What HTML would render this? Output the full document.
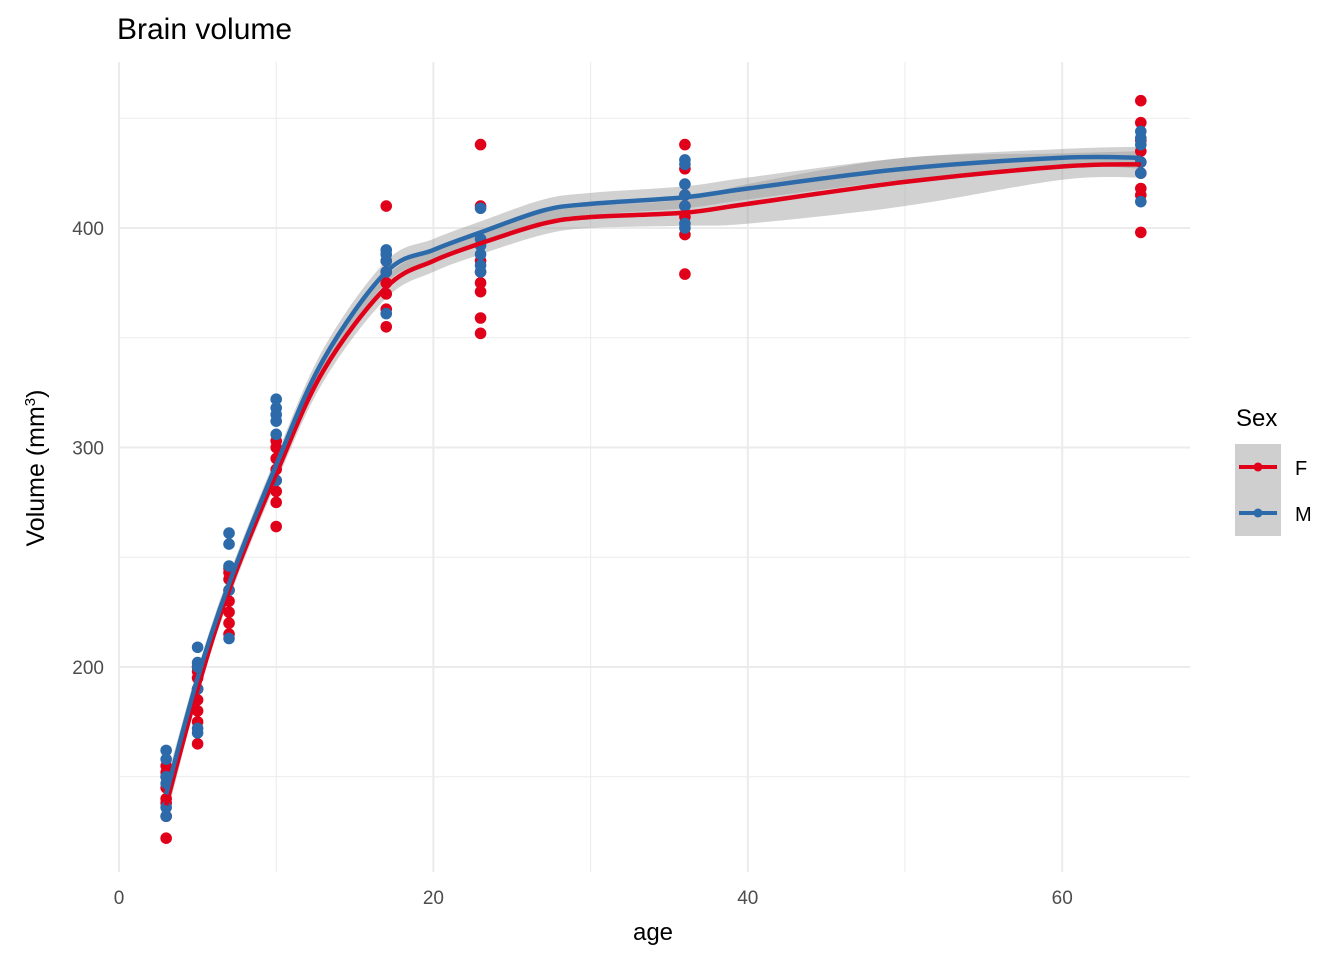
<!DOCTYPE html>
<html><head><meta charset="utf-8"><style>
body{margin:0;background:#fff;font-family:"Liberation Sans",sans-serif}
</style></head><body>
<svg id="c" width="1344" height="960" xmlns="http://www.w3.org/2000/svg" font-family="Liberation Sans, sans-serif">
<text x="117" y="39" font-size="30" fill="#000">Brain volume</text>
<g id="grid"></g><g id="ribbons"></g><g id="pts"></g><g id="lines"></g><g id="axes"></g>
<text x="653" y="940" font-size="24" text-anchor="middle">age</text>
<text transform="translate(44,468) rotate(-90)" font-size="25" text-anchor="middle">Volume (mm<tspan dy="-9" font-size="15">3</tspan><tspan dy="9">)</tspan></text>
<g>
<text x="1236" y="426" font-size="24">Sex</text>
<rect x="1235" y="444" width="46" height="92" fill="#cfcfcf"/>
<g><line x1="1239" x2="1277" y1="467" y2="467" stroke="#e0001a" stroke-width="4"/><circle cx="1258" cy="467" r="4.5" fill="#e0001a"/><text x="1295" y="475" font-size="20">F</text></g>
<g><line x1="1239" x2="1277" y1="513" y2="513" stroke="#2d6aaa" stroke-width="4"/><circle cx="1258" cy="513" r="4.5" fill="#2d6aaa"/><text x="1295" y="521" font-size="20">M</text></g>
</g>
</svg>
<script>
const ages=[3,5,7,10,17,23,36,65];
const fVals=[[122,140,145,150,152,155,138,132],[165,175,180,185,190,195,198,200],[215,220,225,230,235,240,243,245],[264,275,280,285,290,295,300,303],[410,355,363,370,375,380,385],[438,410,352,359,371,375,380,385],[438,427,379,397,405,410,415],[458,448,440,435,430,425,418,415,398]];
const mVals=[[162,158,150,132,147,136],[209,202,200,172,170,190],[261,256,246,213,235],[322,318,315,312,306,285],[390,388,380,361,385],[409,395,392,388,383,380],[431,429,420,415,410,402,400],[444,441,438,430,425,412]];
const smX=[3,5,7,10,13,17,20,23,27,30,36,40,50,60,65];
const fFit=[137,190,235,288,335,373,385,393,402,405,407,411,421,428,429];
const mFit=[142,195,238,292,340,380,390,398,408,411,414,418,427,432,432];
const fSe=[6,4,4,4,5,5,5,5,5,5,6,9,11,6,6];
const mSe=[6,4,4,4,5,5,5,5,5,5,5,5,5,4,5];
const xTicks=[0,20,40,60], yTicks=[200,300,400];
const X=a=>119+a*15.72, Y=v=>228-(v-400)*2.195;
const NS="http://www.w3.org/2000/svg";
function mk(p,t,a){const e=document.createElementNS(NS,t);for(const k in a)e.setAttribute(k,a[k]);document.getElementById(p).appendChild(e);return e;}
for(let a=10;a<=60;a+=10){const g=mk('grid','line',{x1:X(a),x2:X(a),y1:62,y2:872,stroke:'#ebebeb','stroke-width':a%20?1:2});

}
mk('grid','line',{x1:X(0),x2:X(0),y1:62,y2:872,stroke:'#ebebeb','stroke-width':2});
for(let v=150;v<=450;v+=50){const g=mk('grid','line',{x1:119,x2:1190,y1:Y(v),y2:Y(v),stroke:'#ebebeb','stroke-width':v%100?1:2});

}
xTicks.forEach(t=>{const e=mk('axes','text',{x:X(t),y:904,'font-size':19,'text-anchor':'middle',fill:'#4d4d4d'});e.textContent=t;

});
yTicks.forEach(t=>{const e=mk('axes','text',{x:104,y:Y(t)+7,'font-size':19,'text-anchor':'end',fill:'#4d4d4d'});e.textContent=t;

});
function curve(xs,ys){let d='';const p=xs.map((x,i)=>[X(x),Y(ys[i])]);d='M'+p[0];for(let i=0;i<p.length-1;i++){const p0=p[Math.max(0,i-1)],p1=p[i],p2=p[i+1],p3=p[Math.min(p.length-1,i+2)];
d+=' C'+(p1[0]+(p2[0]-p0[0])/6)+','+(p1[1]+(p2[1]-p0[1])/6)+' '+(p2[0]-(p3[0]-p1[0])/6)+','+(p2[1]-(p3[1]-p1[1])/6)+' '+p2;}return d;}
function ribbon(fit,se,name){const up=fit.map((v,i)=>v+se[i]),lo=fit.map((v,i)=>v-se[i]);
const d1=curve(smX,up);const rx=smX.slice().reverse(),rl=lo.slice().reverse();const d2=curve(rx,rl).replace('M','L');
const r=mk('ribbons','path',{d:d1+' '+d2+' Z',fill:'#999','fill-opacity':0.45});

}
ribbon(fFit,fSe,'ribbon-f');ribbon(mFit,mSe,'ribbon-m');
function pts(vals,col,name){vals.forEach((arr,i)=>arr.forEach(v=>{const c=mk('pts','circle',{cx:X(ages[i]),cy:Y(v),r:5.8,fill:col});

}));}
pts(fVals,'#e0001a','point-f');pts(mVals,'#2d6aaa','point-m');
const l1=mk('lines','path',{d:curve(smX,fFit),fill:'none',stroke:'#e0001a','stroke-width':4.5});


const l2=mk('lines','path',{d:curve(smX,mFit),fill:'none',stroke:'#2d6aaa','stroke-width':4.5});


</script>
</body></html>
